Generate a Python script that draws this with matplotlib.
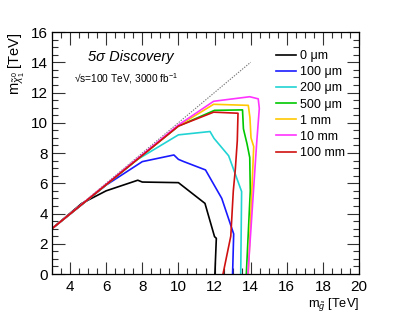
import matplotlib
matplotlib.use("Agg")
import matplotlib.pyplot as plt
from matplotlib.ticker import MultipleLocator

plt.rcParams['font.family'] = ['Liberation Sans', 'DejaVu Sans']
plt.rcParams['mathtext.fontset'] = 'custom'
plt.rcParams['mathtext.rm'] = 'Liberation Sans'
plt.rcParams['mathtext.it'] = 'Liberation Sans:italic'
plt.rcParams['mathtext.bf'] = 'Liberation Sans:bold'

labels = ["0 \u03bcm", "100 \u03bcm", "200 \u03bcm", "500 \u03bcm", "1 mm", "10 mm", "100 mm"]
colors = ["#000000", "#1a1aff", "#22d3d3", "#00c800", "#ffc800", "#ff33ff", "#d01010"]

x_0um = [3, 4.65, 6.0, 7.75, 8.0, 10.0, 11.47, 12.0, 12.1, 12.02]
y_0um = [3, 4.67, 5.5, 6.2, 6.08, 6.04, 4.67, 2.47, 2.36, 0.0]

x_100um = [3, 6.0, 8.0, 9.75, 10.0, 10.3, 11.5, 12.4, 13.06, 13.0]
y_100um = [3, 5.88, 7.43, 7.87, 7.58, 7.43, 6.88, 5.0, 2.65, 0.0]

x_200um = [3, 7.7, 10.0, 11.75, 11.97, 12.78, 13.5, 13.45]
y_200um = [3, 7.55, 9.2, 9.42, 8.97, 7.82, 5.45, 0.0]

x_500um = [3, 10.0, 12.0, 13.55, 13.6, 13.8, 13.95, 13.98, 13.76]
y_500um = [3, 9.78, 10.82, 10.85, 9.6, 8.6, 7.7, 5.5, 0.0]

x_1mm = [3, 10.0, 11.95, 13.87, 13.96, 14.02, 14.17, 13.87]
y_1mm = [3, 9.8, 11.22, 11.15, 10.35, 9.0, 8.42, 0.0]

x_10mm = [3, 10.0, 11.95, 13.95, 14.42, 14.48, 14.33, 13.85]
y_10mm = [3, 9.85, 11.42, 11.72, 11.58, 10.95, 8.6, 0.0]

x_100mm = [3, 10.0, 11.95, 13.3, 13.26, 13.15, 13.04, 12.9, 12.47]
y_100mm = [3, 9.78, 10.7, 10.63, 8.8, 6.9, 5.5, 2.5, 0.0]

xs = [x_0um, x_100um, x_200um, x_500um, x_1mm, x_10mm, x_100mm]
ys = [y_0um, y_100um, y_200um, y_500um, y_1mm, y_10mm, y_100mm]

diag_x = [3, 14]
diag_y = [3, 14]

fig = plt.figure(figsize=(3.99, 3.16), dpi=100)
ax = fig.add_axes([52/399, 42/316, 307/399, 242/316])

ax.plot(diag_x, diag_y, color="#777777", lw=0.8, ls=(0, (1.2, 1.2)), zorder=1)
for x, y, c, l in zip(xs, ys, colors, labels):
    ax.plot(x, y, color=c, lw=1.2, label=l, zorder=2)

ax.set_xlim(3, 20)
ax.set_ylim(0, 16)
ax.xaxis.set_major_locator(MultipleLocator(2))
ax.xaxis.set_minor_locator(MultipleLocator(0.5))
ax.yaxis.set_major_locator(MultipleLocator(2))
ax.yaxis.set_minor_locator(MultipleLocator(0.5))
ax.tick_params(which='both', direction='in', top=True, right=True, labelsize=11, width=0.8, color='#333333')
ax.tick_params(which='major', length=9)
ax.tick_params(which='minor', length=4.5)
ax.tick_params(axis='x', pad=4)
ax.tick_params(axis='y', pad=3)
for s in ax.spines.values():
    s.set_linewidth(0.9)

ax.set_xlabel(r"m$_{\tilde{g}}$ [TeV]", fontsize=9.2, loc='right', labelpad=1.5)
ax.set_ylabel(r"m$_{\tilde{\chi}^{0}_{1}}$ [TeV]", fontsize=10.5, loc='top', labelpad=3)

ax.text(7.35, 14.35, "5\u03c3 Discovery", fontsize=10.5, style='italic', ha='center', va='center')
ax.text(4.2, 12.95, "\u221as=100 TeV, 3000 fb$^{-1}$", fontsize=7.3, ha='left', va='center')

leg = ax.legend(loc='upper left', bbox_to_anchor=(0.725, 0.93), frameon=False, fontsize=9,
                handlelength=1.6, handletextpad=0.35, labelspacing=0.33, borderpad=0.1,
                borderaxespad=0.0)

fig.savefig("out.png", dpi=100)
